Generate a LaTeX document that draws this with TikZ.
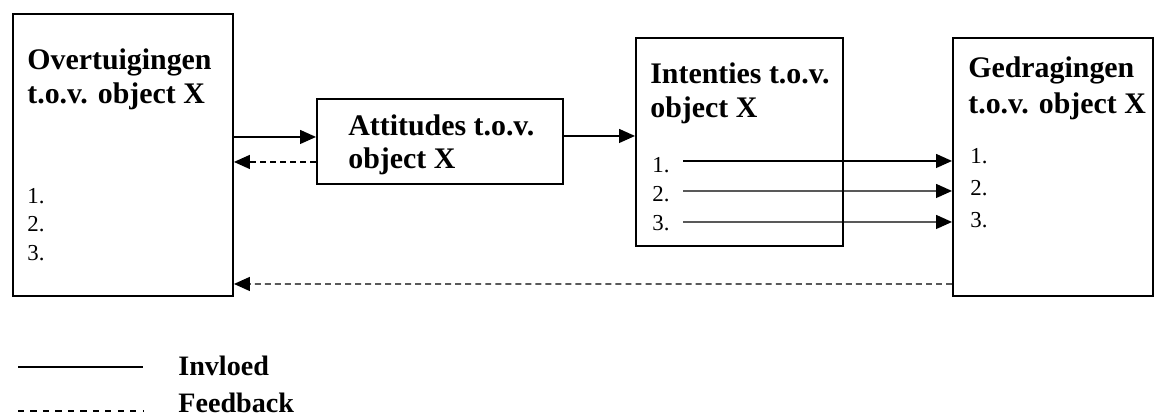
\documentclass[tikz,border=0pt]{standalone}
\usepackage{fontspec}
\setmainfont{Liberation Serif}
\usetikzlibrary{arrows.meta, positioning, calc}

\begin{document}
\begin{tikzpicture}[
    box/.style={rectangle, draw, line width=1.1pt, anchor=north west, inner sep=0pt},
    title/.style={anchor=base west, inner sep=0pt, align=left, font=\fontsize{17}{19.3}\selectfont\bfseries},
    items/.style={anchor=base west, inner sep=0pt, align=left, font=\fontsize{13}{16.4}\selectfont},
    invloed/.style={line width=0.8pt, -{Triangle[length=3.2mm, width=2.8mm]}},
    feedback/.style={line width=0.8pt, dash pattern=on 3.4pt off 2.3pt, -{Triangle[length=3.2mm, width=2.8mm]}},
    legend/.style={anchor=base west, inner sep=0pt, font=\fontsize{16}{18}\selectfont\bfseries}
]
\useasboundingbox (0,0) rectangle (23.1,-8.34);

% Overtuigingen
\node[box, minimum width=4.4cm, minimum height=5.64cm] (overt) at (0.24,-0.26) {};
\node[title] (overtT) at ([xshift=0.3cm, yshift=-1.8cm]overt.north west) {Overtuigingen\\t.o.v. object X};
\node[items, font=\fontsize{13}{16.2}\selectfont] (overtL) at ([xshift=0.3cm, yshift=-4.94cm]overt.north west) {1.\\2.\\3.};

% Attitudes
\node[box, minimum width=4.92cm, minimum height=1.7cm] (att) at (6.32,-1.96) {};
\node[title, font=\fontsize{17}{18.6}\selectfont\bfseries] (attT) at ([xshift=0.64cm, yshift=-1.4cm]att.north west) {Attitudes t.o.v.\\object X};

% Intenties
\node[box, minimum width=4.14cm, minimum height=4.16cm] (int) at (12.7,-0.74) {};
\node[title] (intT) at ([xshift=0.3cm, yshift=-1.6cm]int.north west) {Intenties t.o.v.\\object X};
\node[items] (intL) at ([xshift=0.34cm, yshift=-3.86cm]int.north west) {1.\\2.\\3.};

% Gedragingen
\node[box, minimum width=4.0cm, minimum height=5.16cm] (gedr) at (19.04,-0.74) {};
\node[title, font=\fontsize{17}{20.2}\selectfont\bfseries] (gedrT) at ([xshift=0.32cm, yshift=-1.52cm]gedr.north west) {Gedragingen\\t.o.v. object X};
\node[items, font=\fontsize{13}{18.2}\selectfont] (gedrL) at ([xshift=0.36cm, yshift=-3.8cm]gedr.north west) {1.\\2.\\3.};

% connectors
\draw[invloed] (overt.east |- {$(att.west)+(0,0.09)$}) -- ([yshift=0.09cm]att.west);
\draw[feedback] ([yshift=-0.41cm]att.west) -- (overt.east |- {$(att.west)+(0,-0.41)$});
\draw[invloed] ([yshift=0.11cm]att.east) -- (int.west |- {$(att.east)+(0,0.11)$});
\foreach \dy in {-0.38, -0.98, -1.6}
    \draw[invloed] ([xshift=0.96cm, yshift=\dy cm]int.west) -- (gedr.west |- {$(int.west)+(0,\dy)$});
\draw[feedback] ([yshift=-2.34cm]gedr.west) -- (overt.east |- {$(gedr.west)+(0,-2.34)$});

% Legend
\coordinate (l1a) at (0.36,-7.34);
\coordinate (l1b) at (2.86,-7.34);
\coordinate (l2a) at (0.36,-8.22);
\coordinate (l2b) at (2.86,-8.22);
\draw[line width=0.8pt] (l1a) -- (l1b);
\draw[line width=0.8pt, dash pattern=on 3.5pt off 3.6pt] (l2a) -- (l2b);
\node[legend] (invl) at (3.56,-7.5) {Invloed};
\node[legend] (feedb) at (3.56,-8.24) {Feedback};

\end{tikzpicture}
\end{document}
